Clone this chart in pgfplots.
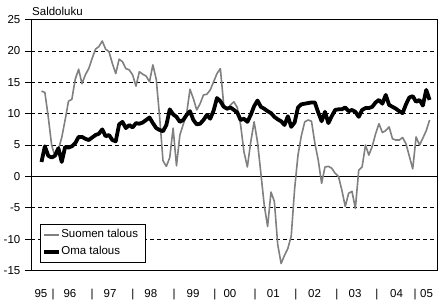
\documentclass[border=0pt]{standalone}
\usepackage{fontspec}
\setmainfont{Liberation Sans}
\usepackage{pgfplots}
\pgfplotsset{compat=1.18}
\usepackage{pgfplotstable}
\definecolor{sgray}{RGB}{128,128,128}

\pgfplotstableread{
i suomi oma
0 13.6 2.3
1 13.4 4.8
2 9.5 3.3
3 5.0 3.0
4 3.2 3.3
5 4.3 4.5
6 6.2 2.3
7 9.0 4.7
8 12.0 4.6
9 12.3 4.8
10 15.5 5.3
11 17.1 6.3
12 14.8 6.3
13 16.2 6.0
14 17.2 5.8
15 18.8 6.2
16 20.3 6.6
17 20.7 6.8
18 21.6 7.5
19 20.3 6.4
20 19.9 6.6
21 18.0 5.8
22 16.4 5.6
23 18.7 8.3
24 18.3 8.7
25 17.2 7.7
26 17.0 8.2
27 16.2 7.8
28 14.4 8.5
29 16.7 8.4
30 16.3 8.6
31 16.0 9.0
32 15.1 9.4
33 17.8 8.5
34 15.5 7.7
35 9.5 7.4
36 2.5 7.2
37 1.6 8.2
38 3.0 10.7
39 7.7 9.9
40 1.7 9.5
41 6.6 8.7
42 8.3 9.0
43 10.0 9.8
44 13.9 10.4
45 12.4 9.0
46 10.6 8.3
47 11.6 8.4
48 13.0 9.0
49 13.1 9.8
50 13.8 9.2
51 15.1 10.5
52 16.4 12.5
53 17.2 12.0
54 11.4 11.1
55 10.6 10.8
56 11.4 11.0
57 11.9 10.6
58 11.0 10.2
59 8.2 9.0
60 3.9 9.2
61 1.5 8.7
62 5.5 9.8
63 8.7 11.2
64 5.5 12.1
65 0.5 11.1
66 -4.6 10.8
67 -8.0 10.4
68 -2.5 10.1
69 -4.0 9.5
70 -10.9 9.1
71 -13.9 8.8
72 -12.6 8.2
73 -11.5 9.6
74 -9.5 7.9
75 -2.0 8.6
76 3.4 11.0
77 6.5 11.5
78 8.7 11.6
79 9.0 11.7
80 8.8 11.8
81 5.3 11.8
82 2.6 10.2
83 -1.1 8.8
84 1.5 10.3
85 1.6 8.5
86 1.3 9.6
87 0.5 10.6
88 0.0 10.7
89 -2.2 10.7
90 -4.8 11.0
91 -2.7 10.4
92 -2.4 10.6
93 -5.1 10.3
94 1.0 9.5
95 1.5 10.6
96 5.0 10.9
97 3.4 10.9
98 4.8 11.1
99 6.8 11.8
100 8.4 12.2
101 7.0 11.6
102 7.3 13.0
103 7.9 11.4
104 6.0 11.1
105 5.8 10.8
106 5.8 10.4
107 6.2 10.1
108 5.2 11.5
109 3.2 12.6
110 1.2 12.8
111 6.3 11.9
112 5.0 12.2
113 6.1 11.3
114 7.3 13.8
115 9.0 12.2
}\datatable

\begin{document}
\begin{tikzpicture}[font=\fontsize{11.5bp}{13bp}\selectfont]
\useasboundingbox (-31bp,-29.6bp) rectangle (409bp,270.4bp);
\begin{axis}[
  name=ax, at={(0,0)}, anchor=south west,
  scale only axis, width=406bp, height=250.7bp,
  xmin=-3.11, xmax=117.19, ymin=-15, ymax=25,
  axis line style={line width=1bp, black},
  ytick={-15,-10,-5,0,5,10,15,20,25},
  yticklabels={-15,-10,-5,0,5,10,15,20,25},
  ytick pos=left, ytick align=outside, major tick length=6bp,
  ytick style={line width=1bp, black},
  yticklabel style={anchor=east, inner sep=0pt, xshift=-4.5bp},
  ymajorgrids,
  grid style={line width=1bp, black, dash pattern=on 4bp off 3bp},
  extra y ticks={0}, extra y tick labels={},
  extra y tick style={grid style={solid, line width=1bp, black}},
  xtick={-0.15,3.41,8.44,15.0,20.3,27.1,32.4,39.3,44.9,51.4,55.85,63.3,68.7,75.4,80.9,87.55,92.9,99.4,105.2,110.7,114.1},
  xticklabels={95,|,96,|,97,|,98,|,99,|,00,|,01,|,02,|,03,|,04,|,05},
  xtick style={draw=none},
  xticklabel style={anchor=base, inner sep=0pt, yshift=-26.6bp},
  every tick label/.append style={font=\fontsize{11.5bp}{13bp}\selectfont},
  legend style={at={(0.0222,0.0307)}, anchor=south west, draw=black, line width=1bp,
    fill=white, inner xsep=1.5bp, inner ysep=4bp, row sep=4bp,
    font=\fontsize{11.5bp}{13bp}\selectfont,
    nodes={inner sep=0.5bp, text height=9bp, text depth=3bp}},
  legend cell align=left,
  legend image code/.code={\draw[#1, line cap=butt] (0bp,0bp) -- (15bp,0bp);},
]
\addplot[sgray, line width=1.6bp, line join=round, no markers] table[x=i, y=suomi] {\datatable};
\addlegendentry{Suomen talous\hspace*{5bp}}
\addplot[black, line width=3.8bp, line join=round, no markers] table[x=i, y=oma] {\datatable};
\addlegendentry{Oma talous}
\end{axis}
\node[anchor=base west, inner sep=0pt, xshift=1bp, yshift=4.7bp] at (ax.north west) {Saldoluku};
\end{tikzpicture}
\end{document}
